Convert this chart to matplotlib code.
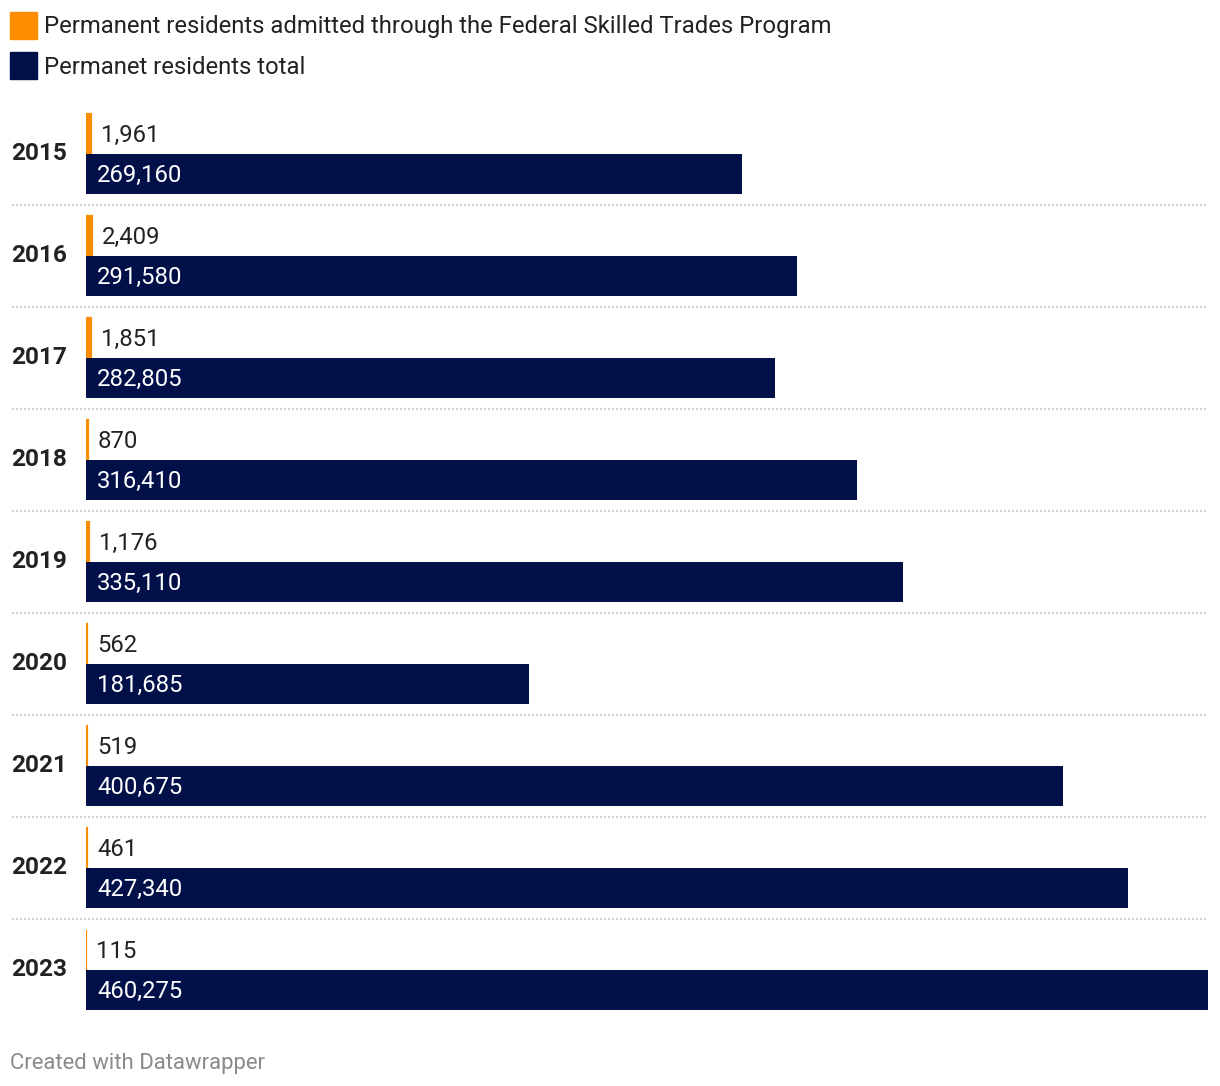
import matplotlib
matplotlib.use("Agg")
import matplotlib.pyplot as plt
from matplotlib.transforms import blended_transform_factory, offset_copy
from matplotlib.patches import Rectangle

plt.rcParams['font.family'] = ['Roboto', 'DejaVu Sans']

years = ['2015', '2016', '2017', '2018', '2019', '2020', '2021', '2022', '2023']
fstp = [1961, 2409, 1851, 870, 1176, 562, 519, 461, 115]
total = [269160, 291580, 282805, 316410, 335110, 181685, 400675, 427340, 460275]
legend_labels = ['Permanent residents admitted through the Federal Skilled Trades Program',
                 'Permanet residents total']

ORANGE = '#fd8c00'
NAVY = '#02104a'
TEXT = '#222222'

W, H = 1220, 1086
fig = plt.figure(figsize=(W / 100, H / 100), dpi=100)
ax = fig.add_axes([86 / W, 1 - 1021 / H, (1208 - 86) / W, (1021 - 103) / H])
ax.set_xlim(0, max(total))
ax.set_ylim(len(years) - 0.5, -0.5)
ax.axis('off')

bh = 40 / 102
yo = [i - bh / 2 for i in range(len(years))]
yn = [i + bh / 2 for i in range(len(years))]
ax.barh(yo, fstp, height=bh, color=ORANGE, edgecolor=ORANGE, linewidth=1.6)
ax.barh(yn, total, height=bh, color=NAVY, linewidth=0)

FS = 17.2
tr_lab = offset_copy(ax.transData, fig=fig, x=10, y=-1.5, units='dots')
tr_in = offset_copy(ax.transData, fig=fig, x=11, y=-1.5, units='dots')
for i in range(len(years)):
    ax.text(fstp[i], yo[i], f"{fstp[i]:,}", transform=tr_lab, ha='left', va='center',
            fontsize=FS, color=TEXT)
    ax.text(0, yn[i], f"{total[i]:,}", transform=tr_in,
            ha='left', va='center', fontsize=FS, color='white')

btr = blended_transform_factory(fig.transFigure, ax.transData)
btr_y = offset_copy(btr, fig=fig, x=0, y=1, units='dots')
for i, y in enumerate(years):
    ax.text(11 / W, i, y, transform=btr_y, ha='left', va='center', fontsize=17.6,
            fontweight='bold', color=TEXT)

for i in range(len(years) - 1):
    ax.plot([12 / W, 1208 / W], [i + 0.5, i + 0.5], transform=btr, color='#c8c8c8',
            linestyle=(0, (1.2, 1.2)), linewidth=1.2, clip_on=False)

# legend
for k, (lab, col) in enumerate(zip(legend_labels, [ORANGE, NAVY])):
    y0 = 12 + k * 40
    fig.patches.append(Rectangle((10 / W, 1 - (y0 + 27) / H), 27 / W, 27 / H,
                                 transform=fig.transFigure, color=col, figure=fig))
    fig.text(44 / W, 1 - (y0 + 15) / H, lab, ha='left', va='center', fontsize=FS, color=TEXT)

fig.text(10 / W, 1 - 1063 / H, 'Created with Datawrapper', ha='left', va='center',
         fontsize=15.9, color='#8a8a8a')

fig.savefig('out.png', dpi=100)
